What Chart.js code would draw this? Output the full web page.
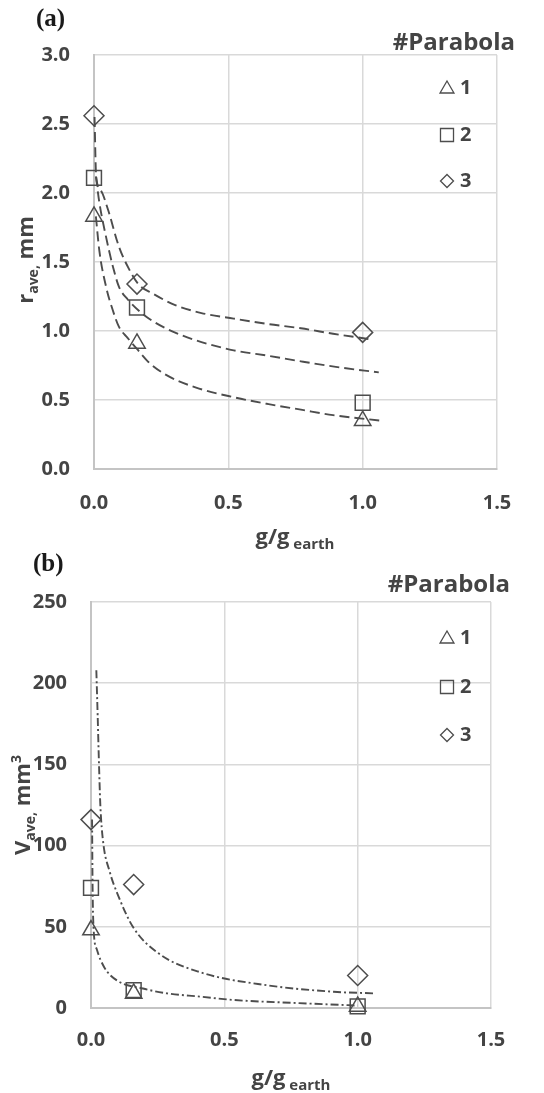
<!DOCTYPE html>
<html>
<head>
<meta charset="utf-8">
<script src="https://cdn.jsdelivr.net/npm/chart.js@4.4.0/dist/chart.umd.min.js"></script>
<style>
body { margin: 0; background: #fff; }
#wrap { position: relative; width: 544px; height: 1093px; }
canvas { position: absolute; left: 0; }
#ca { top: 0; }
#cb { top: 540px; }
</style>
</head>
<body>
<div id="wrap">
<canvas id="ca" width="544" height="560"></canvas>
<canvas id="cb" width="544" height="553"></canvas>
</div>
<script>
// measured points, g/g_earth on x
const gx = [0, 0.16, 1.0]
const rAve1 = [1.83, 0.91, 0.35]
const rAve2 = [2.11, 1.17, 0.48]
const rAve3 = [2.56, 1.34, 0.99]
const vAve1 = [48, 9, 1]
const vAve2 = [74, 11, 1]
const vAve3 = [116, 76, 20]

// trend curves (a)
const fitR1x = [0.007, 0.02, 0.045, 0.07, 0.093, 0.125, 0.16, 0.2, 0.27, 0.38, 0.52, 0.65, 0.77, 0.89, 1.07]
const fitR1y = [1.83, 1.58, 1.32, 1.15, 1.03, 0.95, 0.87, 0.78, 0.68, 0.59, 0.52, 0.47, 0.43, 0.39, 0.35]
const fitR2x = [0.007, 0.02, 0.045, 0.07, 0.093, 0.125, 0.165, 0.22, 0.3, 0.4, 0.52, 0.65, 0.77, 0.9, 1.06]
const fitR2y = [2.12, 1.93, 1.68, 1.47, 1.32, 1.23, 1.15, 1.07, 0.99, 0.92, 0.86, 0.82, 0.78, 0.74, 0.70]
const fitR3x = [0.002, 0.008, 0.025, 0.052, 0.093, 0.13, 0.165, 0.22, 0.3, 0.4, 0.52, 0.65, 0.77, 0.89, 1.03]
const fitR3y = [2.55, 2.12, 2.02, 1.88, 1.61, 1.45, 1.34, 1.27, 1.19, 1.13, 1.09, 1.05, 1.02, 0.98, 0.94]

// trend curves (b)
const fitVax = [0.02, 0.025, 0.03, 0.035, 0.045, 0.07, 0.1, 0.157, 0.25, 0.41, 0.66, 0.91, 1.06]
const fitVay = [208, 180, 150, 125, 103, 84, 70, 50, 34, 22, 14, 10, 9]
const fitVbx = [0.004, 0.006, 0.01, 0.022, 0.05, 0.097, 0.195, 0.285, 0.41, 0.53, 0.78, 1.0]
const fitVby = [116, 74, 48, 36, 25, 17, 12, 9, 7, 5, 3, 1.5]

const xTicks = [0, 0.5, 1.0, 1.5]
const legendLabels = ['1', '2', '3']
const styles = ['triangle', 'rect', 'rectRot']

const ink = '#4d4d4d'
const txt = '#444'

function pts(xs, ys) {
    return xs.map((x, i) => ({ x: x, y: ys[i] }))
}

function markers(xs, ys, style, r) {
    return {
        data: pts(xs, ys),
        pointStyle: style,
        pointRadius: r,
        pointHoverRadius: r,
        pointBorderColor: ink,
        pointBackgroundColor: 'rgba(0,0,0,0)',
        pointBorderWidth: 1.5,
        showLine: false,
        clip: false,
    }
}

function fit(xs, ys, dash) {
    return {
        data: pts(xs, ys),
        showLine: true,
        pointRadius: 0,
        borderColor: ink,
        borderWidth: 1.9,
        borderDash: dash,
        cubicInterpolationMode: 'monotone',
        fill: false,
        clip: false,
    }
}

function drawMark(ctx, style, x, y, r) {
    ctx.beginPath()
    if (style === 'triangle') {
        ctx.moveTo(x, y - r)
        ctx.lineTo(x + r * 0.87, y + r * 0.5)
        ctx.lineTo(x - r * 0.87, y + r * 0.5)
        ctx.closePath()
    } else if (style === 'rect') {
        ctx.rect(x - r * 0.7, y - r * 0.7, r * 1.4, r * 1.4)
    } else {
        ctx.moveTo(x, y - r)
        ctx.lineTo(x + r, y)
        ctx.lineTo(x, y + r)
        ctx.lineTo(x - r, y)
        ctx.closePath()
    }
    ctx.stroke()
}

// text made of pieces with sub/superscripts, centred on x, baseline y
function drawParts(ctx, parts, x, y) {
    let w = 0
    parts.forEach(p => {
        ctx.font = 'bold ' + p.s + 'px "Open Sans"'
        p.w = ctx.measureText(p.t).width
        w += p.w
    })
    let cx = x - w / 2
    parts.forEach(p => {
        ctx.font = 'bold ' + p.s + 'px "Open Sans"'
        ctx.fillText(p.t, cx, y + (p.dy || 0))
        cx += p.w
    })
}

const extras = {
    id: 'extras',
    afterDraw(chart, args, o) {
        const ctx = chart.ctx
        ctx.save()
        ctx.textBaseline = 'middle'
        ctx.textAlign = 'left'
        ctx.fillStyle = '#1a1a1a'
        ctx.font = 'bold 25px "Liberation Serif"'
        ctx.fillText(o.panel, o.panelX, o.panelY)

        ctx.fillStyle = txt
        ctx.textAlign = 'right'
        ctx.font = 'bold 24px "Open Sans"'
        ctx.fillText('#Parabola', o.titleRight, o.titleY)

        ctx.textAlign = 'left'
        ctx.font = 'bold 20px "Open Sans"'
        ctx.strokeStyle = ink
        ctx.lineWidth = 1.3
        const sizes = [8, 9.3, 6.5]
        o.itemY.forEach((y, i) => {
            drawMark(ctx, styles[i], 447, y + (i === 0 ? 1 : 0), sizes[i])
            ctx.fillText(legendLabels[i], 460, y)
        })

        ctx.textBaseline = 'alphabetic'
        drawParts(ctx, o.xTitle, o.xTitleX, o.xTitleY)

        ctx.translate(o.yTitleX, o.yTitleY)
        ctx.rotate(-Math.PI / 2)
        drawParts(ctx, o.yTitle, 0, 8)
        ctx.restore()
    }
}

const tickFont = { family: 'Open Sans', size: 20, weight: 'bold' }

function makeChart(id, datasets, yMax, yStep, yFmt, pad, xPad, ex) {
    return new Chart(document.getElementById(id), {
        type: 'scatter',
        data: { datasets: datasets },
        options: {
            responsive: false,
            animation: false,
            layout: { padding: pad },
            plugins: { legend: { display: false }, tooltip: { enabled: false }, extras: ex },
            scales: {
                x: {
                    min: 0, max: 1.5,
                    afterBuildTicks: s => { s.ticks = xTicks.map(v => ({ value: v })) },
                    afterFit: s => { s.height = 40 },
                    ticks: { color: txt, font: tickFont, padding: xPad, maxRotation: 0, callback: v => v.toFixed(1) },
                    grid: { color: '#d9d9d9', lineWidth: 1.5, drawTicks: false },
                    border: { color: '#c4c4c4', width: 2 },
                },
                y: {
                    min: 0, max: yMax,
                    ticks: { stepSize: yStep, color: txt, font: tickFont, padding: 24, callback: yFmt },
                    afterFit: s => { s.width = ex.plotLeft },
                    grid: { color: '#d9d9d9', lineWidth: 1.5, drawTicks: false },
                    border: { color: '#c4c4c4', width: 2 },
                },
            },
        },
        plugins: [extras],
    })
}

const dashA = [10, 5]
makeChart('ca', [
    markers(gx, rAve1, 'triangle', 9.5),
    markers(gx, rAve2, 'rect', 10.5),
    markers(gx, rAve3, 'rectRot', 10),
    fit(fitR1x, fitR1y, dashA),
    fit(fitR2x, fitR2y, dashA),
    fit(fitR3x, fitR3y, dashA),
], 3, 0.5, v => v.toFixed(1), { top: 55, right: 47, left: 0, bottom: 51 }, 22, {
    plotLeft: 94,
    panel: '(a)', panelX: 36, panelY: 20,
    titleRight: 515, titleY: 43,
    itemY: [88, 135, 181],
    xTitle: [{ t: 'g/g', s: 22 }, { t: ' earth', s: 15, dy: 5 }], xTitleX: 295, xTitleY: 544,
    yTitle: [{ t: 'r', s: 22 }, { t: 'ave,', s: 14, dy: 5 }, { t: ' mm', s: 22 }], yTitleX: 25, yTitleY: 260,
})

const dashB = [8, 3, 2, 3]
makeChart('cb', [
    markers(gx, vAve1, 'triangle', 9.5),
    markers(gx, vAve2, 'rect', 10.5),
    markers(gx, vAve3, 'rectRot', 10),
    fit(fitVax, fitVay, dashB),
    fit(fitVbx, fitVby, dashB),
], 250, 50, v => v, { top: 62, right: 53, left: 0, bottom: 45 }, 20, {
    plotLeft: 91,
    panel: '(b)', panelX: 33, panelY: 25,
    titleRight: 510, titleY: 45,
    itemY: [98, 147, 195],
    xTitle: [{ t: 'g/g', s: 22 }, { t: ' earth', s: 15, dy: 5 }], xTitleX: 291, xTitleY: 545,
    yTitle: [{ t: 'V', s: 22 }, { t: 'ave,', s: 14, dy: 5 }, { t: ' mm', s: 22 }, { t: '3', s: 14, dy: -9 }], yTitleX: 22, yTitleY: 265,
})
</script>
</body>
</html>
